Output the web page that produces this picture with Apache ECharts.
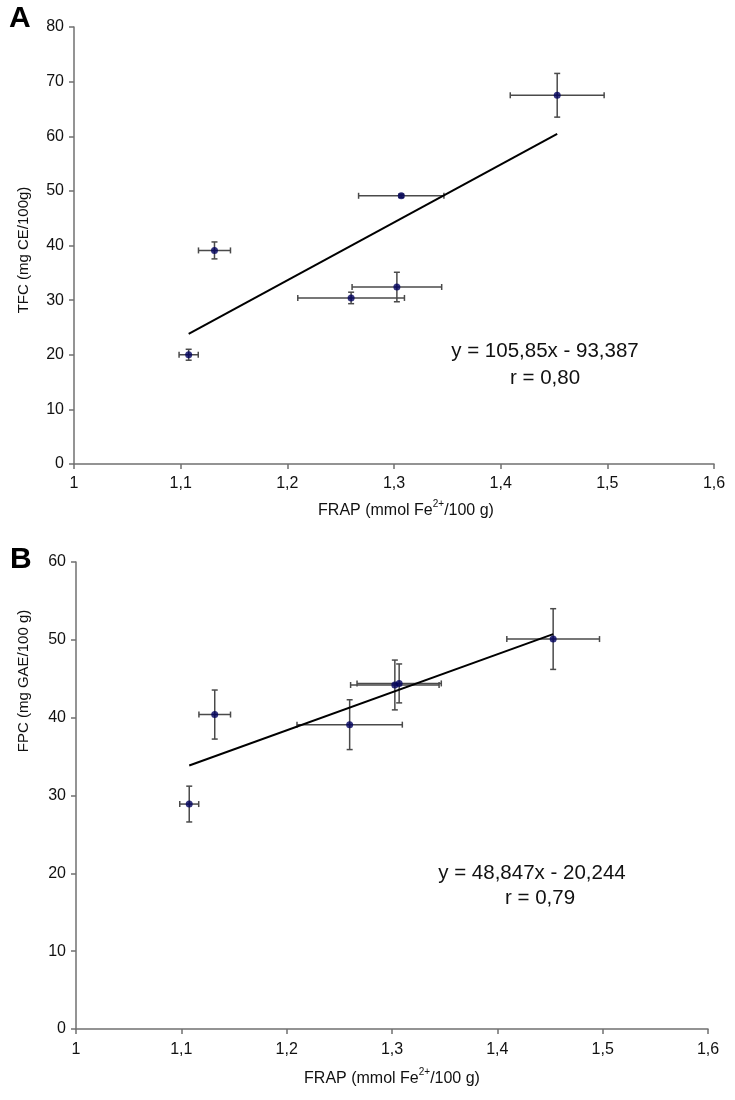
<!DOCTYPE html>
<html>
<head>
<meta charset="utf-8">
<script src="https://cdn.jsdelivr.net/npm/echarts@6/dist/echarts.min.js"></script>
<style>
  html, body { margin: 0; padding: 0; background: #fff; }
  #chart { width: 735px; height: 1100px; }
</style>
</head>
<body>
<div id="chart"></div>
<script>
// ---- data ----
const frap    = [1.1075, 1.1317, 1.2598, 1.3027, 1.3068, 1.4530];   // FRAP, mmol Fe2+/100 g
const frapErr = [0.009, 0.015, 0.050, 0.042, 0.040, 0.044];
const tfc     = [20.0, 39.1, 30.4, 32.4, 49.1, 67.5];               // TFC, mg CE/100g
const tfcErr  = [1.0, 1.55, 1.05, 2.7, 0.3, 4.0];
const fpc     = [28.9, 40.4, 39.1, 44.2, 44.4, 50.1];               // FPC, mg GAE/100 g
const fpcErr  = [2.3, 3.15, 3.2, 3.2, 2.5, 3.9];
const fitA = { slope: 105.85, intercept: -93.387, text: 'y = 105,85x - 93,387', r: 'r = 0,80' };
const fitB = { slope: 48.847, intercept: -20.244, text: 'y = 48,847x - 20,244', r: 'r = 0,79' };
const xTicks = { min: 1, max: 1.6, interval: 0.1 };
const yTicksA = { min: 0, max: 80, interval: 10 };
const yTicksB = { min: 0, max: 60, interval: 10 };

const FONT = "'Liberation Sans', Arial, sans-serif";
const AXIS_COLOR = '#707070';
const BAR_COLOR = '#4a4a4a';

function trend(fit) {
  const x0 = Math.min(...frap), x1 = Math.max(...frap);
  return [[x0, fit.slope * x0 + fit.intercept], [x1, fit.slope * x1 + fit.intercept]];
}
function errData(ys, yErr) {
  return frap.map((x, i) => [x, ys[i], frapErr[i], yErr[i]]);
}
function renderErr(params, api) {
  const x = api.value(0), y = api.value(1), ex = api.value(2), ey = api.value(3);
  const c = api.coord([x, y]);
  const l = api.coord([x - ex, y]), r = api.coord([x + ex, y]);
  const t = api.coord([x, y + ey]), b = api.coord([x, y - ey]);
  const cap = 3;
  const style = { stroke: BAR_COLOR, lineWidth: 1.5 };
  const line = (x1, y1, x2, y2) => ({ type: 'line', shape: { x1, y1, x2, y2 }, style });
  return {
    type: 'group',
    children: [
      line(l[0], c[1], r[0], c[1]),
      line(l[0], c[1] - cap, l[0], c[1] + cap),
      line(r[0], c[1] - cap, r[0], c[1] + cap),
      line(c[0], t[1], c[0], b[1]),
      line(c[0] - cap, t[1], c[0] + cap, t[1]),
      line(c[0] - cap, b[1], c[0] + cap, b[1])
    ]
  };
}
const fmtX = v => (Math.round(v * 10) / 10).toString().replace('.', ',');

function xAxis(gridIndex, margin) {
  return {
    type: 'value', gridIndex, min: xTicks.min, max: xTicks.max, interval: xTicks.interval,
    axisLine: { show: true, onZero: false, lineStyle: { color: AXIS_COLOR, width: 1.5 } },
    axisTick: { show: true, inside: false, length: 5, lineStyle: { color: AXIS_COLOR, width: 1.5 } },
    axisLabel: { formatter: fmtX, fontSize: 16, color: '#111', fontFamily: FONT, margin },
    splitLine: { show: false }
  };
}
function yAxis(gridIndex, ticks) {
  return {
    type: 'value', gridIndex, min: ticks.min, max: ticks.max, interval: ticks.interval,
    axisLine: { show: true, onZero: false, lineStyle: { color: AXIS_COLOR, width: 1.5 } },
    axisTick: { show: true, inside: false, length: 5, lineStyle: { color: AXIS_COLOR, width: 1.5 } },
    axisLabel: { fontSize: 16, color: '#111', fontFamily: FONT, margin: 10 },
    splitLine: { show: false }
  };
}
function panelSeries(idx, ys, yErr, fit) {
  return [
    { type: 'custom', xAxisIndex: idx, yAxisIndex: idx, data: errData(ys, yErr),
      renderItem: renderErr, z: 2, silent: true },
    { type: 'line', xAxisIndex: idx, yAxisIndex: idx, data: trend(fit), showSymbol: false,
      lineStyle: { color: '#000', width: 2 }, z: 3, silent: true },
    { type: 'scatter', xAxisIndex: idx, yAxisIndex: idx, data: frap.map((x, i) => [x, ys[i]]),
      symbol: 'circle', symbolSize: 7, itemStyle: { color: '#00005e' }, z: 4, silent: true }
  ];
}
function xTitle(cx, cy) {
  return {
    type: 'text', x: cx, y: cy,
    style: {
      text: '{n|FRAP (mmol Fe}{s|2+}{n|/100 g)}',
      align: 'center', verticalAlign: 'middle',
      rich: {
        n: { fontSize: 16, fontFamily: FONT, fill: '#111', lineHeight: 20, verticalAlign: 'bottom' },
        s: { fontSize: 10, fontFamily: FONT, fill: '#111', lineHeight: 20, verticalAlign: 'top' }
      }
    }
  };
}
function yTitle(text, cx, cy) {
  return {
    type: 'text', x: cx, y: cy, rotation: Math.PI / 2,
    style: { text, align: 'center', verticalAlign: 'middle', fontSize: 15, fontFamily: FONT, fill: '#111' }
  };
}
function eqText(text, cx, cy) {
  return {
    type: 'text', x: cx, y: cy,
    style: { text, align: 'center', verticalAlign: 'middle', fontSize: 20.5, fontFamily: FONT, fill: '#111' }
  };
}

const chart = echarts.init(document.getElementById('chart'), null, { renderer: 'canvas' });
chart.setOption({
  animation: false,
  backgroundColor: '#fff',
  grid: [
    { left: 74, top: 27, width: 640, height: 437 },
    { left: 76, top: 562, width: 632, height: 467 }
  ],
  xAxis: [xAxis(0, 12), xAxis(1, 13)],
  yAxis: [yAxis(0, yTicksA), yAxis(1, yTicksB)],
  series: [
    ...panelSeries(0, tfc, tfcErr, fitA),
    ...panelSeries(1, fpc, fpcErr, fitB)
  ],
  graphic: [
    { type: 'text', x: 9, y: 4, style: { text: 'A', fontSize: 30, fontWeight: 'bold', fontFamily: FONT, fill: '#000' } },
    { type: 'text', x: 10, y: 545, style: { text: 'B', fontSize: 30, fontWeight: 'bold', fontFamily: FONT, fill: '#000' } },
    yTitle('TFC (mg CE/100g)', 24, 250),
    yTitle('FPC (mg GAE/100 g)', 24, 681),
    xTitle(406, 509),
    xTitle(392, 1077),
    eqText(fitA.text, 545, 351),
    eqText(fitA.r, 545, 378),
    eqText(fitB.text, 532, 873),
    eqText(fitB.r, 540, 898)
  ]
});
</script>
</body>
</html>
